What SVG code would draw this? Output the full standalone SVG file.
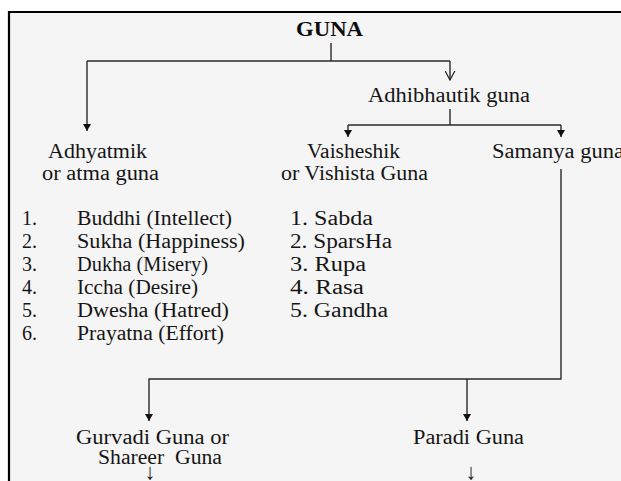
<svg xmlns="http://www.w3.org/2000/svg" width="621" height="481" viewBox="0 0 621 481">
<style>
.t{font-family:"Liberation Serif","Times New Roman",serif;font-size:20px;fill:#151515}
.b{font-weight:bold;font-size:21px;fill:#0d0d0d}
.ar{font-family:"Liberation Serif","DejaVu Sans",serif;font-size:22px;fill:#1a1a1a;text-anchor:middle}
.c{fill:none;stroke:#2a2a2a;stroke-width:1.4}
</style>
<defs>
<marker id="tri" viewBox="0 0 7 8" refX="7" refY="4" markerWidth="7" markerHeight="8" markerUnits="userSpaceOnUse" orient="auto">
<path d="M0,0 L7,4 L0,8 z" fill="#111"/>
</marker>
<marker id="vee" viewBox="0 0 10 11" refX="9.3" refY="5.5" markerWidth="10" markerHeight="11" markerUnits="userSpaceOnUse" orient="auto">
<path d="M0,0.5 L9.3,5.5 L0,10.5" fill="none" stroke="#222" stroke-width="1.2"/>
</marker>
</defs>
<rect x="0" y="0" width="621" height="481" fill="#ffffff"/>
<rect x="9" y="12" width="612" height="469" fill="#f5f5f5"/>
<path d="M621,12 H9 V481" fill="none" stroke="#000" stroke-width="2.2"/>

<g id="connectors">
<path class="c" d="M331,43 V61"/>
<path class="c" d="M87,61 H450"/>
<path class="c" d="M87,61 V131" marker-end="url(#tri)"/>
<path class="c" d="M450,61 V80" marker-end="url(#vee)"/>
<path class="c" d="M450,109 V125"/>
<path class="c" d="M348,125 H561"/>
<path class="c" d="M348,125 V137" marker-end="url(#tri)"/>
<path class="c" d="M561,125 V137" marker-end="url(#tri)"/>
<path class="c" d="M561,169 V379 H149 V421" marker-end="url(#tri)"/>
<path class="c" d="M467,379 V421" marker-end="url(#tri)"/>
</g>

<g id="guna"><text class="t b" x="296" y="36" textLength="67" lengthAdjust="spacingAndGlyphs">GUNA</text></g>
<g id="adhibhautik"><text class="t" x="368" y="102" textLength="162" lengthAdjust="spacingAndGlyphs">Adhibhautik guna</text></g>
<g id="adhyatmik">
<text class="t" x="48" y="158" textLength="99" lengthAdjust="spacingAndGlyphs">Adhyatmik</text>
<text class="t" x="42" y="180" textLength="117" lengthAdjust="spacingAndGlyphs">or atma guna</text>
<text class="t" x="22" y="225">1.</text>
<text class="t" x="22" y="248">2.</text>
<text class="t" x="22" y="271">3.</text>
<text class="t" x="22" y="294">4.</text>
<text class="t" x="22" y="317">5.</text>
<text class="t" x="22" y="340">6.</text>
<text class="t" x="77" y="225" textLength="155" lengthAdjust="spacingAndGlyphs">Buddhi (Intellect)</text>
<text class="t" x="77" y="248" textLength="168" lengthAdjust="spacingAndGlyphs">Sukha (Happiness)</text>
<text class="t" x="77" y="271" textLength="131" lengthAdjust="spacingAndGlyphs">Dukha (Misery)</text>
<text class="t" x="77" y="294" textLength="121" lengthAdjust="spacingAndGlyphs">Iccha (Desire)</text>
<text class="t" x="77" y="317" textLength="152" lengthAdjust="spacingAndGlyphs">Dwesha (Hatred)</text>
<text class="t" x="77" y="340" textLength="147" lengthAdjust="spacingAndGlyphs">Prayatna (Effort)</text>
</g>
<g id="vaisheshik">
<text class="t" x="307" y="158" textLength="93" lengthAdjust="spacingAndGlyphs">Vaisheshik</text>
<text class="t" x="281" y="180" textLength="147" lengthAdjust="spacingAndGlyphs">or Vishista Guna</text>
<text class="t" x="290" y="225" textLength="83" lengthAdjust="spacingAndGlyphs">1. Sabda</text>
<text class="t" x="290" y="248" textLength="102" lengthAdjust="spacingAndGlyphs">2. SparsHa</text>
<text class="t" x="290" y="271" textLength="76" lengthAdjust="spacingAndGlyphs">3. Rupa</text>
<text class="t" x="290" y="294" textLength="74" lengthAdjust="spacingAndGlyphs">4. Rasa</text>
<text class="t" x="290" y="317" textLength="98" lengthAdjust="spacingAndGlyphs">5. Gandha</text>
</g>
<g id="samanya"><text class="t" x="492" y="158" textLength="132" lengthAdjust="spacingAndGlyphs">Samanya guna</text></g>
<g id="gurvadi">
<text class="t" x="76" y="444" textLength="153" lengthAdjust="spacingAndGlyphs">Gurvadi Guna or</text>
<text class="t" x="98" y="464" textLength="124" lengthAdjust="spacingAndGlyphs" xml:space="preserve">Shareer  Guna</text>
<text class="ar" x="150" y="479">↓</text>
</g>
<g id="paradi">
<text class="t" x="413" y="444" textLength="111" lengthAdjust="spacingAndGlyphs">Paradi Guna</text>
<text class="ar" x="471" y="479">↓</text>
</g>
</svg>
